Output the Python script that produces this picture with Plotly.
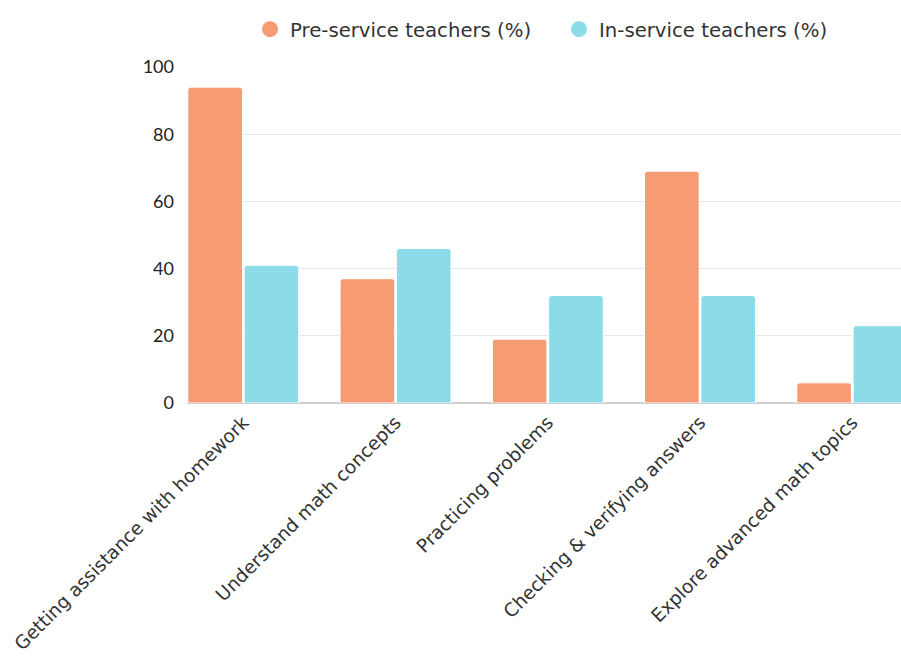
import plotly.graph_objects as go

categories = ["Getting assistance with homework", "Understand math concepts",
              "Practicing problems", "Checking & verifying answers",
              "Explore advanced math topics"]
pre_service = [94, 37, 19, 69, 6]
in_service = [41, 46, 32, 32, 23]
series_names = ["Pre-service teachers (%)", "In-service teachers (%)"]
colors = ["#F79C72", "#8BDCE8"]

fig = go.Figure()
for name, vals, col in zip(series_names, [pre_service, in_service], colors):
    fig.add_trace(go.Bar(x=categories, y=vals, name=name, showlegend=False,
                         marker=dict(color=col, line=dict(color="white", width=1))))
for name, col in zip(series_names, colors):
    fig.add_trace(go.Scatter(x=[None], y=[None], mode="markers", name=name,
                             marker=dict(color=col, size=18, symbol="circle")))

fig.update_layout(
    width=901, height=657,
    margin=dict(l=187, r=0, t=67, b=254),
    paper_bgcolor="white", plot_bgcolor="white",
    barmode="group", bargap=0.26, bargroupgap=0.03, barcornerradius=3,
    legend=dict(orientation="h", x=250 / 901, xanchor="left", xref="container",
                y=0.985, yanchor="top", yref="container",
                font=dict(family="DejaVu Sans", size=19.7, color="#333333"),
                itemwidth=30, entrywidth=264, entrywidthmode="pixels"),
    font=dict(family="DejaVu Sans", color="#333333"),
)
fig.update_xaxes(range=[-0.37, 4.32], tickangle=-45, showgrid=False, automargin=False,
                 tickfont=dict(family="DejaVu Sans", size=18.6, color="#333333"),
                 showline=False, ticks="", ticklabelstandoff=4)
fig.update_yaxes(range=[0, 100], dtick=20, showgrid=True, gridcolor="#E6E6E6",
                 zeroline=True, zerolinecolor="#CFCFCF", zerolinewidth=1.5, automargin=False,
                 tickfont=dict(family="Lato", size=18, color="#222222"), ticks="",
                 ticklabelstandoff=12)
fig.write_html("out.html")
